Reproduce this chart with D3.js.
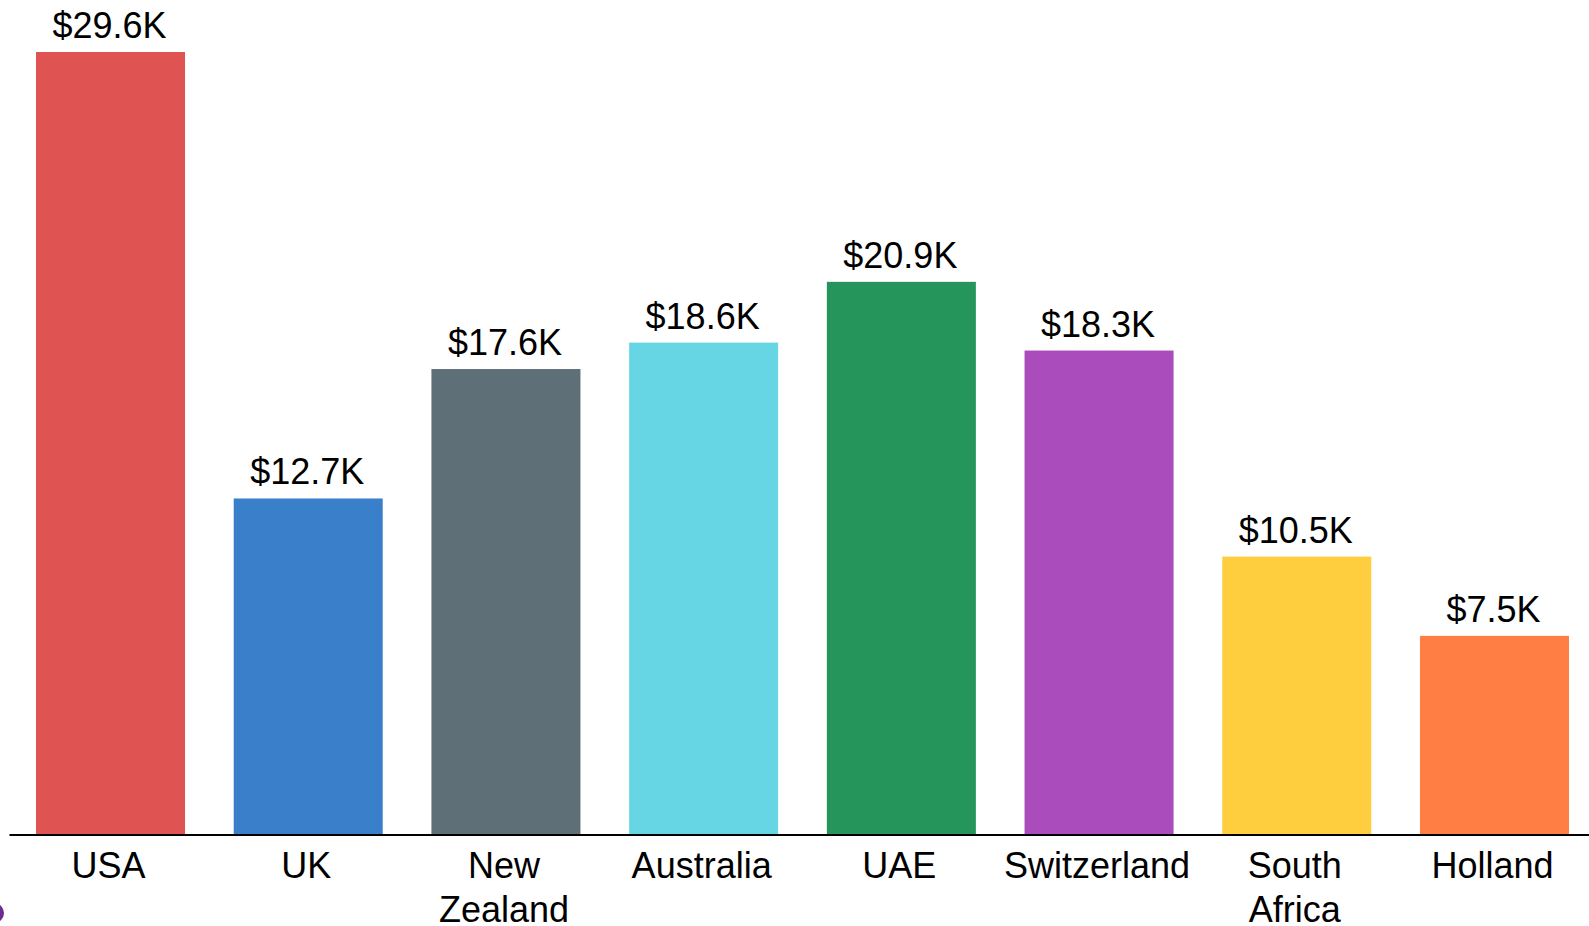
<!DOCTYPE html>
<html>
<head>
<meta charset="utf-8">
<script src="https://cdn.jsdelivr.net/npm/d3@7"></script>
<style>
  html, body { margin: 0; padding: 0; background: #ffffff; overflow: hidden; }
  svg { display: block; }
  text { font-family: "Liberation Sans", Arial, Helvetica, sans-serif; }
</style>
</head>
<body>
<svg id="chart" width="1589" height="926"></svg>
<script>
const categories = ["USA", "UK", "New Zealand", "Australia", "UAE", "Switzerland", "South Africa", "Holland"];
const values = [29600, 12700, 17600, 18600, 20900, 18300, 10500, 7500];
const colors = ["#E05353", "#3A7FCA", "#5E6F77", "#66D5E4", "#26955B", "#AB4CBC", "#FECE3F", "#FE7E43"];

const W = 1589, H = 926;
const svg = d3.select("#chart");

const x = d3.scaleBand()
  .domain(categories)
  .range([9, 1596])
  .paddingInner(0.2463)
  .paddingOuter(0.1366);

const y = d3.scaleLinear()
  .domain([0, 29600])
  .range([834, 52]);

const data = categories.map((c, i) => ({ c, v: values[i], col: colors[i] }));

svg.append("g").selectAll("rect")
  .data(data)
  .join("rect")
  .attr("x", d => x(d.c))
  .attr("y", d => y(d.v))
  .attr("width", x.bandwidth())
  .attr("height", d => y(0) - y(d.v))
  .attr("fill", d => d.col);

const fmt = v => "$" + d3.format(".1f")(v / 1000) + "K";

svg.append("g").selectAll("text")
  .data(data)
  .join("text")
  .attr("x", d => x(d.c) + x.bandwidth() / 2 - 1)
  .attr("y", d => y(d.v) - 14)
  .attr("text-anchor", "middle")
  .attr("font-size", 36)
  .attr("fill", "#000")
  .text(d => fmt(d.v));

const axis = svg.append("g")
  .attr("transform", `translate(0,${y(0) + 0.5})`)
  .call(d3.axisBottom(x).tickSize(0).tickPadding(0));

axis.select(".domain").attr("stroke", "#000").attr("stroke-width", 2);
axis.selectAll(".tick text")
  .attr("font-size", 36)
  .attr("fill", "#000")
  .attr("font-family", "'Liberation Sans', Arial, sans-serif")
  .attr("dy", null)
  .attr("y", 43.5)
  .attr("transform", "translate(-2,0)")
  .each(function(d) {
    const t = d3.select(this);
    const label = d;
    t.text(null);
    const probe = t.append("tspan").attr("x", 0).text(label);
    const w = this.getComputedTextLength();
    if (w > 190 && label.includes(" ")) {
      probe.remove();
      const words = label.split(" ");
      words.forEach((wd, i) => {
        t.append("tspan").attr("x", 0).attr("dy", i === 0 ? 0 : 43.5).text(wd);
      });
    }
  });

// small decorative mark at the lower-left corner
svg.append("circle")
  .attr("cx", -6)
  .attr("cy", 913)
  .attr("r", 10)
  .attr("fill", "#6B2D90");
</script>
</body>
</html>
